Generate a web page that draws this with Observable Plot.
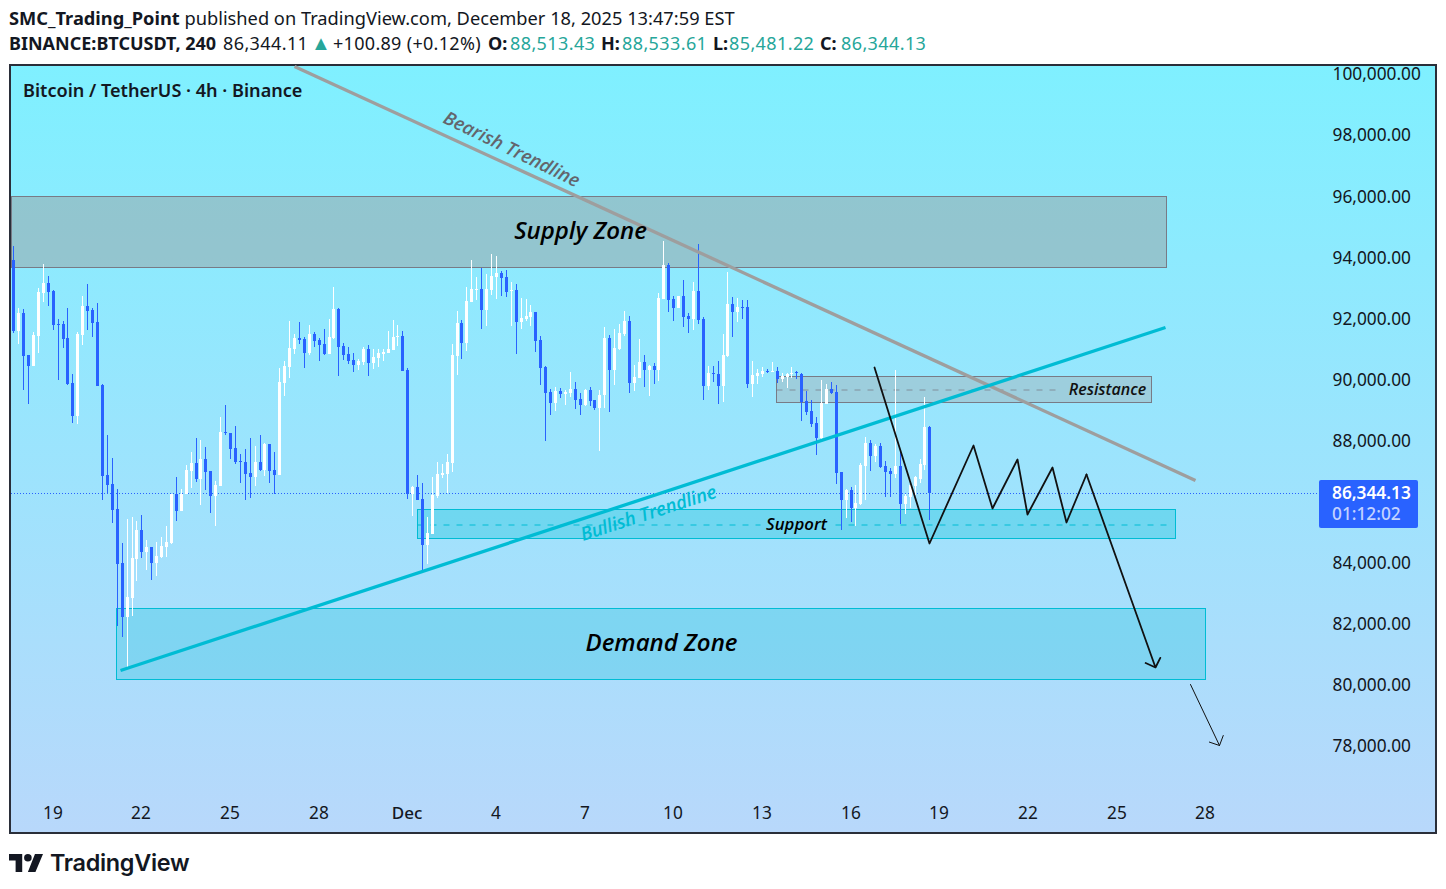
<!DOCTYPE html>
<html>
<head>
<meta charset="utf-8">
<script src="https://cdn.jsdelivr.net/npm/d3@7"></script>
<script src="https://cdn.jsdelivr.net/npm/@observablehq/plot@0.6"></script>
<style>
  html, body { margin: 0; padding: 0; background: #fff; overflow: hidden; }
  body { width: 1446px; height: 889px; position: relative; font-family: "Noto Sans", sans-serif; color: #131722; }
  .hdr { position: absolute; left: 9px; white-space: nowrap; font-size: 18.25px; line-height: 24px; }
  .hdr b { font-weight: 700; }
  .row { position: absolute; left: 0; top: 31px; height: 24px; font-size: 18px; line-height: 24px; white-space: nowrap; }
  .row span { position: absolute; top: 0; letter-spacing: .4px; }
  .row b { position: absolute; top: 0; font-weight: 700; }
  .row .g { color: #26a69a; }
  .row .tri { color: #26a69a; font-size: 20px; letter-spacing: 0; top: 0; }
  #frame { position: absolute; left: 9px; top: 64px; width: 1424px; height: 766px; border: 2px solid #2a2e39;
           background: linear-gradient(#7ff0ff, #b8d8fb); }
  #frame svg { display: block; background: transparent; }
  #tag { position: absolute; left: 1308px; top: 414px; width: 99px; height: 48px; background: #2962ff; border-radius: 2px; box-sizing: border-box; padding: 3px 0 0 13px; font-size: 17.3px; line-height: 20.5px; color: #fff; font-weight: 600; }
  #tag span { display: block; font-weight: 500; color: #c3d2ff; }
  #brand { position: absolute; left: 9px; top: 853px; height: 19px; display: flex; align-items: center; }
  #brand span { font-family: Inter, sans-serif; font-weight: 600; font-size: 23.4px; margin-left: 7px; color: #131722; letter-spacing: -0.3px; }
</style>
</head>
<body>
<div class="hdr" style="top:6px"><b>SMC_Trading_Point</b> published on TradingView.com, December 18, 2025 13:47:59 EST</div>
<div class="row">
  <b style="left:9px">BINANCE:BTCUSDT, 240</b>
  <span style="left:223px">86,344.11</span>
  <span class="tri" style="left:311px">▲</span>
  <span style="left:333px;letter-spacing:.3px">+100.89 (+0.12%)</span>
  <b style="left:488px">O:</b><span class="g" style="left:510px">88,513.43</span>
  <b style="left:601px">H:</b><span class="g" style="left:622px">88,533.61</span>
  <b style="left:713px">L:</b><span class="g" style="left:729px">85,481.22</span>
  <b style="left:820px">C:</b><span class="g" style="left:841px">86,344.13</span>
</div>
<div id="frame"><div id="tag">86,344.13<span>01:12:02</span></div></div>
<div id="brand">
  <svg width="34" height="19" viewBox="0 0 36 20"><path fill="#131722" d="M14 20H7V8H0V1h14v19ZM28 20h-8l7.5-19H36L28 20Z"/><circle fill="#131722" cx="20" cy="5" r="4"/></svg>
  <span>TradingView</span>
</div>
<script>
// ---- data -----------------------------------------------------------------
const firstBar = "2025-11-17T16:00:00Z"; // 4h bars
const opens = [
93990,91660,92250,90870,90520,91500,92910,93230,92970,91890,
91890,91430,89960,88880,91530,92480,92350,91960,89890,86940,
86650,85830,84060,82290,82910,84190,85140,84420,84590,84060,
84260,84590,84720,86320,85760,86320,87080,87340,86810,87470,
87080,86260,86580,88350,88320,87830,87400,87370,87010,86880,
87370,87110,87960,87110,86940,89960,90480,91070,91430,91400,
90940,91560,91370,91230,90910,91430,92380,91170,90910,90710,
90550,90650,91070,90610,90780,90910,90940,91040,91460,91500,
90380,86320,86550,86160,84650,85010,86260,86940,86980,87340,
90840,91920,91270,92610,93000,93040,92350,93000,93430,93560,
93430,92960,93000,91960,92050,92120,92280,91370,90480,89660,
89300,89700,89600,89630,89760,89430,89240,89730,89400,89140,
89560,91430,90380,91070,91560,91990,89960,90120,90650,90380,
90510,90380,92710,93820,92710,92420,92810,92150,92050,92970,
92050,89860,90290,90250,89860,90840,92550,92280,92450,92450,
89930,90190,90250,90360,90310,90350,90090,90150,90250,90330,
90250,89370,89040,88650,88160,89270,89760,89660,87040,86120,
86450,85860,85990,87240,87990,87570,87890,87240,87080,86980,
87240,85990,86220,86580,86810,87270,88513.43];
const highs = [
94450,92420,92380,90880,91630,93070,93860,93460,93000,92050,
91990,92420,90250,91630,92810,93200,92420,92580,89930,88250,
87500,86490,84720,85500,85570,85440,85630,84810,84590,84750,
84910,85270,86320,86880,86490,87270,87700,88160,88090,87860,
87080,86750,88840,89240,88320,88550,87630,87800,88160,87890,
88250,87990,87960,87700,90450,90680,91990,91560,91960,91460,
91860,91630,91430,91730,92050,93110,92410,91270,91140,90940,
90740,91140,91200,91070,91070,91070,91660,92020,91860,91660,
90450,86580,86940,86680,85570,86880,87370,87300,87630,91240,
92320,92020,93100,93990,93430,93730,93530,94180,94120,93630,
93660,93270,93200,92740,92710,92510,92280,91500,90510,89760,
89830,89790,89730,90320,89990,89630,89760,89830,89400,89730,
91790,91530,91730,91890,92320,92150,90550,91400,90880,90550,
90610,92910,94610,93890,92810,92810,93330,92250,93270,94510,
92120,90510,90510,90680,91560,93590,92780,92740,92680,92680,
90680,90420,90480,90420,90650,90480,90290,90290,90480,90350,
90290,89700,89400,88840,90060,89930,89990,89890,87040,86490,
86550,86620,87340,88190,88090,87960,87990,87400,87170,90380,
87760,86320,86780,86910,87470,89500,88533.61];
const lows = [
91610,91230,89730,89270,90510,90940,92610,92480,91690,90060,
91100,89890,88650,88610,91200,91690,91470,89860,86130,86320,
85370,82000,81640,80590,82330,83470,84230,83830,83500,83640,
84230,84260,84680,85440,85760,86320,86520,86720,85960,86450,
85700,85270,86580,88250,87470,87300,86680,86120,86190,86580,
87070,86910,86680,86320,86940,89530,90120,90910,91240,90450,
90880,91140,90680,90880,90900,91400,90190,90710,90580,90320,
90380,90550,90190,90420,90480,90680,90940,91040,91170,90350,
86160,85600,86120,83830,84030,85010,86190,86850,86350,87040,
90220,90740,91010,92610,92680,91730,91830,92840,92710,92810,
92780,91830,90910,91730,91990,91830,90970,89890,88060,88910,
89040,89470,89240,89500,89110,88910,89200,89200,89070,87730,
89140,89010,89890,91040,91500,89630,89700,90120,89830,89530,
89930,90020,92710,92280,91990,92410,91790,91600,91690,91890,
89400,89730,89990,89270,89340,90810,91460,91960,92050,89790,
89500,89930,90150,90290,90310,89960,89990,89790,90120,90090,
88710,88910,88520,87600,88090,89270,89600,86650,85140,85540,
85400,85270,85960,86120,87080,87370,87170,86220,86220,86850,
85340,85670,85860,86290,86680,87110,85481.22];
const closes = [
91660,92250,90840,90520,91530,92940,93230,92940,91860,91850,
91400,89930,88880,91560,92480,92320,91920,89860,86910,86620,
85800,84030,82290,82950,84230,85140,84420,84590,84060,84290,
84620,84750,86320,85760,86320,87110,87340,86810,87470,87040,
86260,86620,88350,88310,87800,87370,87360,86980,86880,87370,
87110,87960,87070,86940,89990,90510,91100,91430,91370,90940,
91560,91330,91200,90910,91460,92380,91140,90880,90680,90550,
90680,91070,90610,90810,90940,90970,91070,91460,91500,90350,
86320,86550,86120,84650,85040,86290,86980,87010,87370,90880,
91920,91270,92640,93040,93040,92350,93040,93460,93560,93400,
92940,93000,91960,92090,92150,92280,91330,90450,89630,89300,
89700,89600,89660,89760,89400,89240,89730,89370,89140,89560,
91430,90380,91100,91600,91990,89960,90150,90650,90380,90510,
90380,92740,93820,92680,92420,92810,92120,92050,92970,92020,
89860,90290,90250,89860,90880,92550,92280,92450,92410,89930,
90220,90290,90350,90320,90350,90090,90190,90250,90290,90290,
89330,89010,88610,88160,89300,89760,89630,87010,86120,86450,
85860,86030,87270,87990,87570,87890,87210,87040,86980,87240,
85990,86260,86620,86880,87300,88520,86344.13];
const lastClose = 86344.13;

const priceTicks = [78000,80000,82000,84000,88000,90000,92000,94000,96000,98000,100000];
const dayTicks = ["2025-11-19","2025-11-22","2025-11-25","2025-11-28","2025-12-04","2025-12-07","2025-12-10","2025-12-13","2025-12-16","2025-12-19","2025-12-22","2025-12-25","2025-12-28"];
const monthTicks = ["2025-12-01"];

// zones: [from, to, low, high]
const supplyZone = ["2025-11-17T14:08Z","2025-12-26T16:24Z",93757,96083];
const demandZone = ["2025-11-21T03:48Z","2025-12-28T00:06Z",80260,82586];
const supportZone = ["2025-12-01T07:54Z","2025-12-26T23:30Z",84880,85830];
const resistanceZone = ["2025-12-13T11:18Z","2025-12-26T04:18Z",89325,90177];
const supportDash = [["2025-12-01T07:54Z","2025-12-12T22:06Z"],["2025-12-15T11:00Z","2025-12-26T18:54Z"]];
const supportMid = 85345;
const resistanceDashEnd = "2025-12-23T04:00Z";
const resistanceMid = 89751;

// trend lines: [t1, p1, t2, p2]
const bearishLine = ["2025-11-27T03:48Z",100342,"2025-12-27T15:36Z",86780];
const bullishLine = ["2025-11-21T07:00Z",80555,"2025-12-26T15:42Z",91792];

// projected path
const pathTimes = ["2025-12-16T19:24Z","2025-12-18T15:30Z","2025-12-20T03:12Z","2025-12-20T19:12Z","2025-12-21T15:18Z","2025-12-21T23:24Z","2025-12-22T19:24Z","2025-12-23T07:18Z","2025-12-23T23:18Z"];
const pathPrices = [90472,84706,87926,85853,87468,85656,87215,85414,86976];
const pathEnd = ["2025-12-26T07:30Z",80663];
const thinArrow = ["2025-12-27T11:24Z",80087,"2025-12-28T11:30Z",78098];

const notes = [
  {text:"Bearish Trendline", t:"2025-12-04T12:00Z", p:97623, size:18.6, rot:26, fill:"#63656c"},
  {text:"Supply Zone", t:"2025-12-06T20:00Z", p:94937, size:24, rot:0, fill:"#000"},
  {text:"Demand Zone", t:"2025-12-09T13:42Z", p:81440, size:24, rot:0, fill:"#000"},
  {text:"Support", t:"2025-12-14T03:18Z", p:85338, size:16.8, rot:0, fill:"#000"},
  {text:"Resistance", t:"2025-12-24T16:36Z", p:89761, size:16, rot:0, fill:"#111"},
  {text:"Bullish Trendline", t:"2025-12-09T03:12Z", p:85699, size:18.6, rot:-18, fill:"#00bcd4"}
];

// ---- assembly -------------------------------------------------------------
const D = s => new Date(s);
const candles = opens.map((o, i) => ({
  t: d3.utcHour.offset(new Date(firstBar), i * 4), o, h: highs[i], l: lows[i], c: closes[i]
}));
const up = candles.filter(d => d.c >= d.o), down = candles.filter(d => d.c < d.o);
const BLUE = "#2962ff", WHITE = "#ffffff", TEAL = "#00bcd4", GREY = "#787b86", ITALIC = '"Open Sans", sans-serif', UI = '"Noto Sans", sans-serif';

const zone = (z, fill, fillOpacity, stroke) => Plot.rect([z], {
  x1: d => D(d[0]), x2: d => D(d[1]), y1: d => d[2], y2: d => d[3],
  fill, fillOpacity, stroke, strokeWidth: 1, dx: 0.5, dy: 0.5
});
const candleMarks = (rows, color) => [
  Plot.ruleX(rows, {x: "t", y1: "l", y2: "h", stroke: color, strokeWidth: 1}),
  Plot.ruleX(rows, {x: "t", y1: "o", y2: "c", stroke: color, strokeWidth: 3})
];
const path = pathTimes.map((t, i) => ({t: D(t), p: pathPrices[i]}));
const seg = (s, o) => Plot.link([s], {x1: d => D(d[0]), y1: d => d[1], x2: d => D(d[2]), y2: d => d[3], ...o});

const chart = Plot.plot({
  width: 1424, height: 766,
  marginLeft: 0, marginRight: 103, marginTop: 0, marginBottom: 45,
  style: {background: "transparent", overflow: "visible"},
  x: {type: "utc", domain: [D("2025-11-17T14:08Z"), D("2026-01-01T07:00Z")], round: true},
  y: {type: "linear", domain: [76722, 100342], round: true},
  marks: [
    zone(supplyZone, "#9c9c9c", 0.47, GREY),
    zone(demandZone, TEAL, 0.25, TEAL),
    zone(supportZone, TEAL, 0.3, TEAL),
    zone(resistanceZone, "#a8a8a8", 0.38, GREY),
    Plot.link(supportDash, {x1: d => D(d[0]), x2: d => D(d[1]), y1: () => supportMid, y2: () => supportMid, stroke: TEAL, strokeWidth: 1, strokeDasharray: "6 7", dy: 0.5}),
    Plot.link([[resistanceZone[0], resistanceDashEnd]], {x1: d => D(d[0]), x2: d => D(d[1]), y1: () => resistanceMid, y2: () => resistanceMid, stroke: GREY, strokeOpacity: 0.75, strokeWidth: 1, strokeDasharray: "6 7", dy: 0.5}),
    Plot.ruleY([lastClose], {x1: D("2025-11-17T14:08Z"), x2: D("2026-01-01T00:00Z"), stroke: BLUE, strokeWidth: 1, strokeDasharray: "1 2"}),
    ...candleMarks(up, WHITE),
    ...candleMarks(down, BLUE),
    seg(bearishLine, {stroke: "#9e9e9e", strokeWidth: 3.3}),
    seg(bullishLine, {stroke: TEAL, strokeWidth: 3.3}),
    Plot.line(path, {x: "t", y: "p", stroke: "#111", strokeWidth: 1.8, curve: "linear"}),
    Plot.arrow([[pathTimes[pathTimes.length - 1], pathPrices[pathPrices.length - 1], pathEnd[0], pathEnd[1]]], {
      x1: d => D(d[0]), y1: d => d[1], x2: d => D(d[2]), y2: d => d[3],
      stroke: "#111", strokeWidth: 1.8, headLength: 9, headAngle: 92
    }),
    Plot.arrow([thinArrow], {
      x1: d => D(d[0]), y1: d => d[1], x2: d => D(d[2]), y2: d => d[3],
      stroke: "#111", strokeWidth: 1, headLength: 16, headAngle: 92
    }),
    ...notes.map(n => Plot.text([n], {
      x: d => D(d.t), y: "p", text: "text", fontSize: n.size, fontStyle: "italic", fontWeight: 600,
      fontFamily: ITALIC, rotate: n.rot, fill: n.fill, textAnchor: "middle", lineAnchor: "middle"
    })),
    Plot.text(["Bitcoin / TetherUS · 4h · Binance"], {
      frameAnchor: "top-left", dx: 11.5, dy: 18, fontSize: 18.1, fontWeight: 600, fontFamily: UI, fill: "#131722"
    }),
    Plot.axisY(priceTicks, {anchor: "right", tickSize: 0, tickPadding: 0, dy: -2, tickFormat: d3.format(",.2f"), label: null, fontSize: 17.3, fontFamily: UI, fill: "#131722"}),
    Plot.axisX(dayTicks.map(D), {anchor: "bottom", tickSize: 0, tickPadding: 19, dx: -0.5, tickFormat: d => String(d.getUTCDate()), label: null, fontSize: 17.3, fontFamily: UI, fill: "#131722"}),
    Plot.axisX(monthTicks.map(D), {anchor: "bottom", tickSize: 0, tickPadding: 19, dx: -0.5, tickFormat: () => "Dec", label: null, fontSize: 17, fontWeight: 500, fontFamily: UI, fill: "#131722"})
  ]
});
document.getElementById("frame").prepend(chart);
</script>
</body>
</html>
